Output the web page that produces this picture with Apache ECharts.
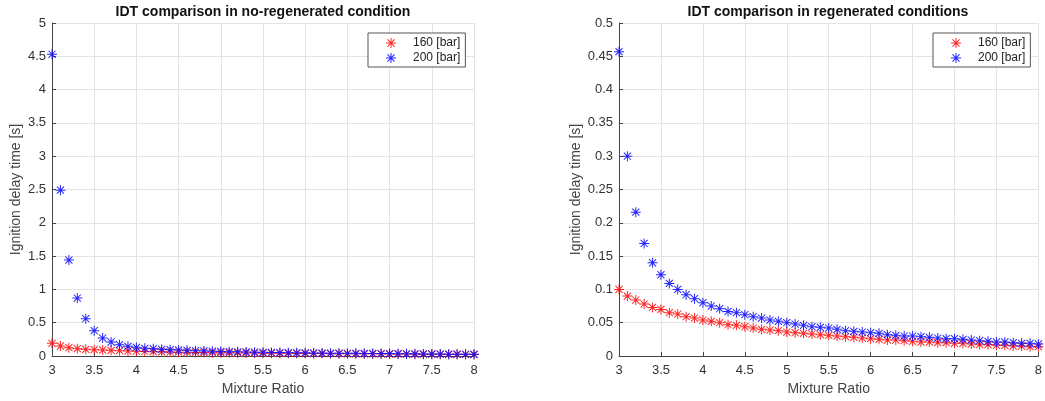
<!DOCTYPE html>
<html>
<head>
<meta charset="utf-8">
<script src="https://cdn.jsdelivr.net/npm/echarts@6/dist/echarts.min.js"></script>
<style>html,body{margin:0;padding:0;background:#fff}#c{width:1045px;height:401px}</style>
</head>
<body>
<div id="c"></div>
<script>
var mixtureRatio = [3.0,3.1,3.2,3.3,3.4,3.5,3.6,3.7,3.8,3.9,4.0,4.1,4.2,4.3,4.4,4.5,4.6,4.7,4.8,4.9,5.0,5.1,5.2,5.3,5.4,5.5,5.6,5.7,5.8,5.9,6.0,6.1,6.2,6.3,6.4,6.5,6.6,6.7,6.8,6.9,7.0,7.1,7.2,7.3,7.4,7.5,7.6,7.7,7.8,7.9,8.0];

// no-regenerated condition
var noRegen160 = [0.19,0.15,0.125,0.11,0.10,0.095,0.09,0.085,0.08,0.075,0.072,0.068,0.065,0.062,0.06,0.058,0.056,0.054,0.052,0.05,0.049,0.047,0.046,0.045,0.044,0.043,0.042,0.041,0.04,0.039,0.038,0.037,0.036,0.035,0.035,0.034,0.033,0.032,0.032,0.031,0.03,0.03,0.029,0.028,0.028,0.027,0.026,0.026,0.025,0.025,0.024];
var noRegen200 = [4.53,2.49,1.44,0.87,0.56,0.38,0.27,0.21,0.17,0.145,0.13,0.115,0.11,0.10,0.095,0.09,0.085,0.08,0.075,0.072,0.068,0.065,0.062,0.06,0.058,0.055,0.053,0.051,0.05,0.048,0.047,0.045,0.044,0.043,0.042,0.041,0.04,0.039,0.038,0.037,0.036,0.035,0.033,0.032,0.031,0.03,0.029,0.028,0.027,0.026,0.025];

// regenerated conditions
var regen160 = [0.100,0.090,0.084,0.078,0.073,0.070,0.065,0.063,0.059,0.057,0.054,0.052,0.050,0.047,0.046,0.044,0.042,0.040,0.039,0.038,0.036,0.035,0.034,0.033,0.032,0.031,0.030,0.029,0.028,0.027,0.026,0.025,0.024,0.024,0.023,0.022,0.021,0.021,0.020,0.020,0.019,0.019,0.018,0.017,0.017,0.016,0.016,0.015,0.015,0.014,0.014];
var regen200 = [0.457,0.300,0.216,0.169,0.140,0.122,0.109,0.100,0.092,0.086,0.080,0.075,0.071,0.067,0.065,0.062,0.059,0.057,0.054,0.052,0.050,0.048,0.046,0.044,0.043,0.042,0.040,0.038,0.037,0.036,0.035,0.034,0.032,0.031,0.030,0.030,0.029,0.028,0.027,0.026,0.026,0.025,0.024,0.023,0.022,0.021,0.021,0.020,0.019,0.019,0.018];

var seriesNames = ['160 [bar]', '200 [bar]'];
var titles = ['IDT comparison in no-regenerated condition', 'IDT comparison in regenerated conditions'];
var xTicks = {min: 3, max: 8, interval: 0.5};
var yLeft = {min: 0, max: 5, interval: 0.5};
var yRight = {min: 0, max: 0.5, interval: 0.05};

var star = 'path://M9,0L11,0L11,20L9,20Z M0,9L20,9L20,11L0,11Z M3.63,2.22L17.78,16.37L16.37,17.78L2.22,3.63Z M17.78,3.63L3.63,17.78L2.22,16.37L16.37,2.22Z';

function pairs(xs, ys){ return xs.map(function(x,i){ return [x, ys[i]]; }); }

var FONT = 'Liberation Sans, Arial, Helvetica, sans-serif';
function xAxis(gi){
  return {
    type: 'value', gridIndex: gi, min: xTicks.min, max: xTicks.max, interval: xTicks.interval,
    name: 'Mixture Ratio', nameLocation: 'middle', nameGap: 26,
    nameTextStyle: {fontSize: 14, color: '#444', fontFamily: FONT},
    axisLine: {show: true, lineStyle: {color: '#444', width: 1}},
    axisTick: {show: true, inside: true, length: 4, lineStyle: {color: '#444'}},
    axisLabel: {fontSize: 13, color: '#333', margin: 8, fontFamily: FONT},
    splitLine: {show: true, lineStyle: {color: '#e3e3e3', width: 1}}
  };
}
function yAxis(gi, r, gap){
  return {
    type: 'value', gridIndex: gi, min: r.min, max: r.max, interval: r.interval,
    name: 'Ignition delay time [s]', nameLocation: 'middle', nameGap: gap,
    nameTextStyle: {fontSize: 14, color: '#444', fontFamily: FONT},
    axisLine: {show: true, lineStyle: {color: '#444', width: 1}},
    axisTick: {show: true, inside: true, length: 4, lineStyle: {color: '#444'}},
    axisLabel: {fontSize: 13, color: '#333', margin: 6, fontFamily: FONT},
    splitLine: {show: true, lineStyle: {color: '#e3e3e3', width: 1}}
  };
}
function sc(name, gi, data, color){
  return {
    type: 'scatter', name: name, xAxisIndex: gi, yAxisIndex: gi, data: data,
    symbol: star, symbolSize: 10, symbolKeepAspect: true,
    itemStyle: {color: color, opacity: 0.9}, emphasis: {disabled: true}, animation: false
  };
}
function legend(left){
  return {
    left: left, top: 33, orient: 'vertical', data: seriesNames,
    backgroundColor: '#fff', borderColor: '#555', borderWidth: 1, padding: [4, 5, 3, 18],
    itemWidth: 10, itemHeight: 10, itemGap: 3, selectedMode: false,
    textStyle: {fontSize: 12, color: '#222', padding: [0, 0, 0, 12], fontFamily: FONT}
  };
}

var chart = echarts.init(document.getElementById('c'), null, {renderer: 'canvas'});
chart.setOption({
  animation: false,
  backgroundColor: '#fff',
  graphic: [
    {type: 'text', x: 263, y: 5, style: {text: titles[0], font: 'bold 14px ' + FONT, fill: '#111', textAlign: 'center'}},
    {type: 'text', x: 828, y: 5, style: {text: titles[1], font: 'bold 14px ' + FONT, fill: '#111', textAlign: 'center'}}
  ],
  grid: [
    {left: 52, right: 571, top: 23, bottom: 44},
    {left: 619, right: 6, top: 23, bottom: 44}
  ],
  legend: [legend(368), legend(933)],
  xAxis: [xAxis(0), xAxis(1)],
  yAxis: [yAxis(0, yLeft, 29), yAxis(1, yRight, 36)],
  series: [
    sc(seriesNames[0], 0, pairs(mixtureRatio, noRegen160), '#ff1010'),
    sc(seriesNames[1], 0, pairs(mixtureRatio, noRegen200), '#1010ff'),
    sc(seriesNames[0], 1, pairs(mixtureRatio, regen160), '#ff1010'),
    sc(seriesNames[1], 1, pairs(mixtureRatio, regen200), '#1010ff')
  ]
});
</script>
</body>
</html>
